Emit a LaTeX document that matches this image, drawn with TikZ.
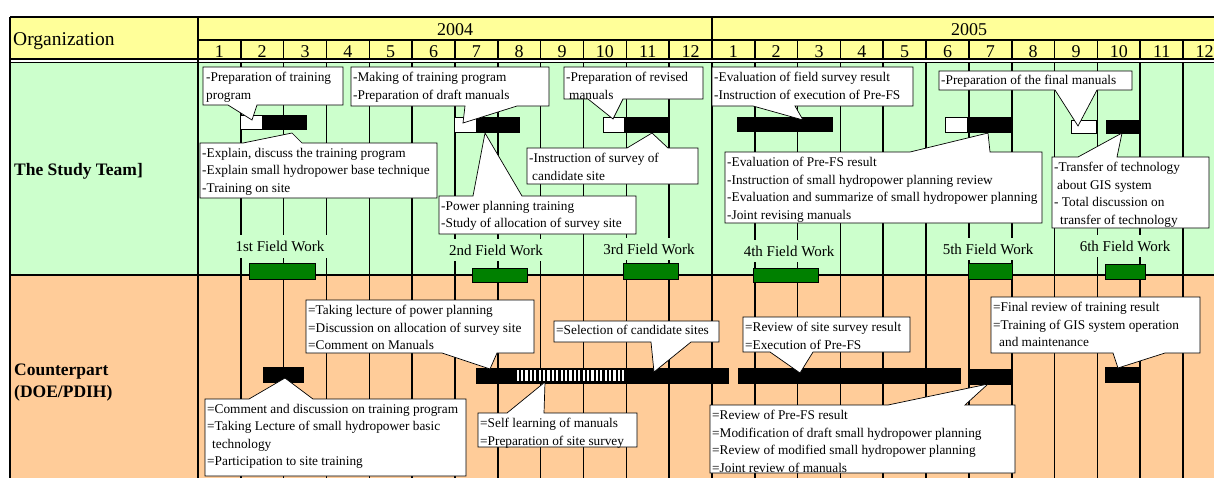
\documentclass[tikz,border=0pt]{standalone}
\usepackage{fontspec}
\setmainfont{Liberation Serif}
\definecolor{hdr}{HTML}{FFFF99}
\definecolor{stg}{HTML}{CCFFCC}
\definecolor{cpo}{HTML}{FFCC99}
\definecolor{fwg}{HTML}{008000}
\tikzset{
  gridline/.style={line width=1.6pt},
  cbox/.style={fill=white, draw=black, line width=0.7pt, line join=miter},
  ctext/.style={anchor=north west, inner sep=0pt, align=left, font=\fontsize{13.3}{17.5}\selectfont},
  fwlabel/.style={anchor=base, fill=stg, inner xsep=3pt, inner ysep=6pt, font=\fontsize{15}{17}\selectfont},
  fwbar/.style={fill=fwg, draw=black, line width=0.6pt},
  actbar/.style={fill=black, draw=black, line width=0.6pt},
  planbar/.style={fill=white, draw=black, line width=0.6pt},
  hdrtext/.style={anchor=base, inner sep=0pt, font=\fontsize{18}{20}\selectfont},
  orgtext/.style={anchor=base west, inner sep=0pt, font=\bfseries\fontsize{17.5}{21}\selectfont},
}
% callout with wedge on the bottom side: x1 y1 x2 y2 b1 b2 tipx tipy
\newcommand\cshapeB[8]{\path[cbox] (#1,#2) -- (#3,#2) -- (#3,#4) -- (#6,#4) -- (#7,#8) -- (#5,#4) -- (#1,#4) -- cycle;}
% callout with wedge on the top side
\newcommand\cshapeT[8]{\path[cbox] (#1,#2) -- (#5,#2) -- (#7,#8) -- (#6,#2) -- (#3,#2) -- (#3,#4) -- (#1,#4) -- cycle;}
\begin{document}
\begin{tikzpicture}[x=1pt,y=-1pt]
\useasboundingbox (0,0) rectangle (1214,477);
\clip (0,0) rectangle (1214,477);
\fill[white] (0,0) rectangle (1214,477);
% backgrounds
\fill[hdr] (10,17) rectangle (1240,59);
\fill[stg] (10,62.5) rectangle (1240,275);
\fill[cpo] (10,275) rectangle (1240,490);
% grid
\draw[gridline] (10,17) -- (1240,17);
\draw[gridline] (10,17) -- (10,490);
\draw[gridline] (198,40) -- (1240,40);
\draw[gridline] (10,59) -- (1240,59);
\draw[gridline] (10,62.5) -- (1240,62.5);
\draw[gridline] (10,275) -- (1240,275);
\draw[gridline] (198,17) -- (198,490);
\draw[gridline] (712,17) -- (712,40);
\foreach \k in {1,...,23} {
  \draw[gridline] ({198+42.83*\k},40) -- ({198+42.83*\k},59);
  \draw[gridline] ({198+42.83*\k},62.5) -- ({198+42.83*\k},490);
}
% header texts
\node[anchor=base west, inner sep=0pt, font=\fontsize{19.5}{22}\selectfont] (org) at (13,45) {Organization};
\node[hdrtext] (y2004) at (455,35) {2004};
\node[hdrtext] (y2005) at (969,35) {2005};
\foreach \k [count=\m from 1] in {0,...,11}
  \node[hdrtext] (ma\m) at ({198+42.83*(\k+0.5)},57) {\m};
\foreach \k [count=\m from 1] in {12,...,23}
  \node[hdrtext] (mb\m) at ({198+42.83*(\k+0.5)},57) {\m};
% row labels
\node[orgtext] (team) at (14,175) {The Study Team]};
\node[orgtext] (cp1) at (14,375) {Counterpart};
\node[orgtext] (cp2) at (14,397) {(DOE/PDIH)};
% field work labels
\node[fwlabel] (fw1) at (280,251.5) {1st Field Work};
\node[fwlabel] (fw2) at (496,255) {2nd Field Work};
\node[fwlabel] (fw3) at (649,254) {3rd Field Work};
\node[fwlabel] (fw4) at (789,256) {4th Field Work};
\node[fwlabel] (fw5) at (988,254) {5th Field Work};
\node[fwlabel] (fw6) at (1125,251) {6th Field Work};
% field work bars
\path[fwbar] (249,263) rectangle (315,279);
\path[fwbar] (472,268) rectangle (527,282);
\path[fwbar] (623,263) rectangle (678,279);
\path[fwbar] (753,268) rectangle (818,282);
\path[fwbar] (968,263) rectangle (1012,279);
\path[fwbar] (1105,264) rectangle (1145,279);
% study team bars
\path[planbar] (240,115) rectangle (262,129);
\path[actbar] (263,115) rectangle (306,129);
\path[planbar] (454,117) rectangle (476,132);
\path[actbar] (477,117) rectangle (519,132);
\path[planbar] (603,117) rectangle (624,132);
\path[actbar] (624,117) rectangle (669,132);
\path[actbar] (737,117) rectangle (832,131);
\path[planbar] (945,117) rectangle (967,132);
\path[actbar] (967,117) rectangle (1012,132);
\path[planbar] (1071,120) rectangle (1096,133);
\path[actbar] (1106,120) rectangle (1139,133);
% counterpart bars
\path[actbar] (263,367) rectangle (303,382);
\path[actbar] (476,368) rectangle (728,383);
\foreach \i in {0,...,24} \fill[white] ({516.5+4.4*\i},370) rectangle ++(2.2,11);
\path[actbar] (738,368) rectangle (960,383);
\path[actbar] (968,369) rectangle (1012,384);
\path[actbar] (1105,367) rectangle (1139,382);
% study team callouts
\cshapeB{203}{67}{343}{105}{228}{257}{252}{120}
\node[ctext] (t1) at (206,72) {-Preparation of training\\program};
\cshapeB{351}{67}{549}{106}{465}{517}{463}{123}
\node[ctext] (t2) at (353,72) {-Making of training program\\-Preparation of draft manuals};
\cshapeB{564}{67}{703}{99}{588}{623}{613}{119}
\node[ctext] (t3) at (566,72) {-Preparation of revised\\\hspace{3pt}manuals};
\cshapeB{712}{67}{913}{106}{753}{795}{803}{120}
\node[ctext] (t4) at (714,72) {-Evaluation of field survey result\\-Instruction of execution of Pre-FS};
\cshapeB{939}{71}{1132}{90}{1055}{1097}{1078}{126}
\node[ctext] (t5) at (941,75) {-Preparation of the final manuals};
\cshapeT{200}{143}{437}{198}{243}{302}{292}{133}
\node[ctext] (t6) at (202,148) {-Explain, discuss the training program\\-Explain small hydropower base technique\\-Training on site};
\cshapeT{439}{196}{636}{234}{473}{522}{485}{133}
\node[ctext] (t7) at (441,201) {-Power planning training\\-Study of allocation of survey site};
\cshapeT{527}{148}{698}{184}{627}{668}{652}{133}
\node[ctext] (t8) at (529,153) {-Instruction of survey of\\\hspace{3pt}candidate site};
\cshapeT{725}{152}{1042}{223}{910}{990}{988}{133}
\node[ctext] (t9) at (727,157) {-Evaluation of Pre-FS result\\-Instruction of small hydropower planning review\\-Evaluation and summarize of small hydropower planning\\-Joint revising manuals};
\cshapeT{1052}{157}{1209}{228}{1078}{1117}{1122}{133}
\node[ctext] (t10) at (1054,162) {-Transfer of technology\\\hspace{3pt}about GIS system\\- Total discussion on\\\hspace{6pt}transfer of technology};
% counterpart callouts
\cshapeB{306}{300}{534}{353}{442}{497}{490}{369}
\node[ctext] (t11) at (308,305) {=Taking lecture of power planning\\=Discussion on allocation of survey site\\=Comment on Manuals};
\cshapeB{554}{321}{719}{342}{651}{691}{654}{372}
\node[ctext] (t12) at (556,325) {=Selection of candidate sites};
\cshapeB{743}{317}{910}{352}{770}{813}{800}{373}
\node[ctext] (t13) at (745,322) {=Review of site survey result\\=Execution of Pre-FS};
\cshapeB{991}{297}{1200}{353}{1113}{1165}{1118}{368}
\node[ctext] (t14) at (993,302) {=Final review of training result\\=Training of GIS system operation\\\hspace{6pt}and maintenance};
\cshapeT{205}{399}{466}{476}{249}{313}{285}{378}
\node[ctext] (t15) at (207,404) {=Comment and discussion on training program\\=Taking Lecture of small hydropower basic\\\hspace{5pt}technology\\=Participation to site training};
\cshapeT{478}{413}{637}{447}{507}{544}{545}{382}
\node[ctext] (t16) at (480,418) {=Self learning of manuals\\=Preparation of site survey};
\cshapeT{710}{405}{1015}{473}{888}{965}{988}{384}
\node[ctext] (t17) at (712,410) {=Review of Pre-FS result\\=Modification of draft small hydropower planning\\=Review of modified small hydropower planning\\=Joint review of manuals};
\end{tikzpicture}
\end{document}
